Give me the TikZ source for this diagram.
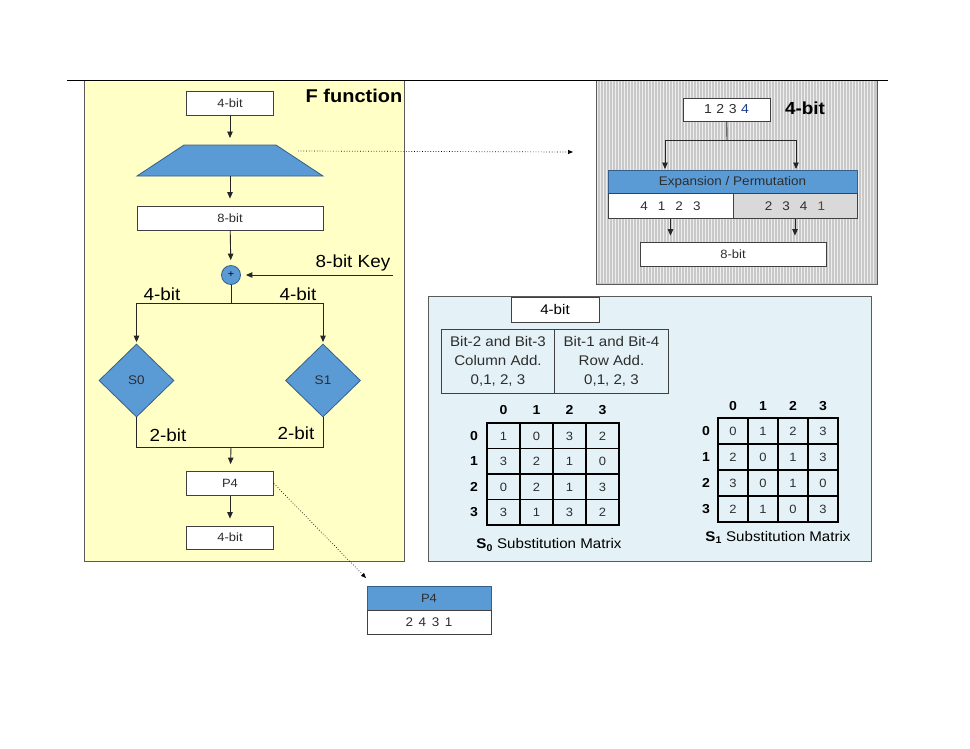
\documentclass[tikz,border=0pt]{standalone}
\usepackage{fontspec}
\setmainfont{Liberation Sans}[FakeStretch=1.08]
\usetikzlibrary{arrows.meta,shapes.geometric}

\definecolor{fyellow}{RGB}{255,255,198}
\definecolor{pcyan}{RGB}{228,242,247}
\definecolor{pgray}{RGB}{200,200,200}
\definecolor{pstripe}{RGB}{238,238,238}
\definecolor{sblue}{RGB}{91,155,213}
\definecolor{sblueline}{RGB}{52,94,140}
\definecolor{frameline}{RGB}{90,90,90}
\definecolor{celltext}{RGB}{45,45,45}
\definecolor{bitblue}{RGB}{30,60,140}
\definecolor{bitbrown}{RGB}{110,60,20}

\tikzset{
  x=1pt, y=-1pt,
  conn/.style={line width=0.9pt, draw=black!85},
  arr/.style={conn, -{Triangle[length=6.5pt,width=5.5pt]}, shorten >=7pt},
  dotarr/.style={dotted, line width=0.7pt, -{Triangle[length=5pt,width=4pt]}},
  box/.style={draw=black!75, fill=white, line width=0.8pt, inner sep=0pt,
    text=celltext, font=\fontsize{12}{14}\selectfont},
  bluebox/.style={box, fill=sblue, draw=sblueline},
  sbox/.style={diamond, aspect=1, draw=sblueline, fill=sblue, line width=0.8pt,
    inner sep=0pt, minimum width=75pt, minimum height=73pt,
    font=\fontsize{12.5}{14}\selectfont, text=celltext},
  biglabel/.style={font=\fontsize{17.5}{20}\selectfont, inner sep=0pt},
  panel/.style={line width=0.9pt, draw=frameline},
  gridline/.style={line width=1.3pt, draw=black},
  cellnum/.style={font=\fontsize{12}{14}\selectfont, text=celltext, inner sep=0pt},
  headnum/.style={font=\fontsize{13}{15}\selectfont\bfseries, inner sep=0pt},
  caption/.style={font=\fontsize{14}{16}\selectfont, inner sep=0pt},
}

\begin{document}
\begin{tikzpicture}
\useasboundingbox (0,0) rectangle (970,748);
\fill[white] (0,0) rectangle (970,748);

% ---------- background panels ----------
\filldraw[panel, fill=fyellow] (84,80) rectangle (404,561);
\fill[pgray] (596,80) rectangle (877,284);
\foreach \x in {597.5,600.5,...,876} \draw[pstripe, line width=1.6pt] (\x,81) -- (\x,283);
\draw[panel] (596,80) rectangle (877,284);
\filldraw[panel, fill=pcyan] (428,296) rectangle (871,561);
\draw[line width=1.6pt] (67,80.5) -- (888,80.5);

% ---------- F function ----------
\node[font=\fontsize{18.5}{20}\selectfont\bfseries, inner sep=0pt] (ftitle) at (354,96) {F function};
\node[box, minimum width=87pt, minimum height=24pt] (in4) at (230,103) {4-bit};
\filldraw[draw=sblueline, fill=sblue, line width=0.8pt] (184,145) -- (276,145) -- (323,176) -- (137,176) -- cycle;
\coordinate (trapT) at (230,145);
\coordinate (trapB) at (230,176);
\coordinate (trapR) at (298,151);
\node[box, minimum width=186pt, minimum height=24pt] (b8) at (230,218) {8-bit};
\node[circle, draw=sblueline, fill=sblue, line width=0.8pt, minimum size=19pt, inner sep=0pt,
      font=\fontsize{10}{10}\selectfont] (xor) at (231,275) {+};
\node[biglabel] (keylbl) at (353,263) {8-bit Key};
\coordinate (keyS) at (393,275);
\coordinate (split) at (231,303);
\node[biglabel] (l4a) at (162,294) {4-bit};
\node[biglabel] (l4b) at (298,294) {4-bit};
\node[sbox] (s0) at (136.5,380.5) {S0};
\node[sbox] (s1) at (323,380.5) {S1};
\coordinate (join) at (231,447);
\node[biglabel] (l2a) at (168,435) {2-bit};
\node[biglabel] (l2b) at (296,433) {2-bit};
\node[box, minimum width=87pt, minimum height=24pt] (p4) at (230,483.5) {P4};
\node[box, minimum width=87pt, minimum height=23pt] (out4) at (230,537.5) {4-bit};

\draw[arr] (in4) -- (trapT);
\draw[arr] (trapB) -- (b8);
\draw[arr, shorten >=5pt] (b8) -- (xor);
\draw[arr, shorten >=5pt] (keyS) -- (xor);
\draw[conn] (xor) -- (split);
\draw[arr, shorten >=1.5pt] (split) -| (s0);
\draw[arr, shorten >=1.5pt] (split) -| (s1);
\draw[conn] (s0) |- (join);
\draw[conn] (s1) |- (join);
\draw[arr] (join) -- (p4);
\draw[arr] (p4) -- (out4);

% ---------- expansion / permutation detail ----------
\node[box, minimum width=87pt, minimum height=23pt, font=\fontsize{13}{14}\selectfont] (in1234) at (726.5,109.5)
      {1\hspace{0.35em}2\hspace{0.35em}3\hspace{0.35em}\textcolor{bitblue}{4}};
\node[font=\fontsize{17.5}{20}\selectfont\bfseries, inner sep=0pt] (ep4) at (805,108) {4-bit};
\coordinate (esplit) at (727,140);
\coordinate (eLtop) at (665,171);
\coordinate (eRtop) at (796,171);
\node[bluebox, minimum width=249pt, minimum height=23pt, font=\fontsize{12.5}{14}\selectfont] (ep) at (732.5,182) {Expansion / Permutation};
\node[box, minimum width=125pt, minimum height=25pt, font=\fontsize{12.5}{14}\selectfont] (c1) at (670.5,206) {4\hspace{0.8em}1\hspace{0.8em}2\hspace{0.8em}3};
\node[box, fill=black!15, minimum width=124pt, minimum height=25pt, font=\fontsize{12.5}{14}\selectfont] (c2) at (795,206) {2\hspace{0.8em}3\hspace{0.8em}4\hspace{0.8em}\textcolor{bitbrown}{1}};
\node[box, minimum width=186pt, minimum height=24pt] (o8) at (733,254) {8-bit};

\draw[conn] (in1234) -- (esplit);
\draw[arr, shorten >=2pt] (esplit) -| (eLtop);
\draw[arr, shorten >=2pt] (esplit) -| (eRtop);
\draw[arr, shorten >=6pt] (c1.south) -- (c1.south |- o8.north);
\draw[arr, shorten >=6pt] (c2.south) -- (c2.south |- o8.north);

\coordinate (expTgt) at (573,152);
\draw[dotarr] (trapR) -- (expTgt);

% ---------- P4 detail ----------
\node[bluebox, minimum width=124pt, minimum height=24pt] (p4h) at (429,598) {P4};
\node[box, minimum width=124pt, minimum height=24pt, font=\fontsize{12.5}{14}\selectfont] (p4b) at (429,622) {2\hspace{0.45em}4\hspace{0.45em}3\hspace{0.45em}1};
\coordinate (p4Tgt) at (366,578);
\draw[dotarr] (p4.east) -- (p4Tgt);

% ---------- S-box panel ----------
\node[box, minimum width=88pt, minimum height=25pt, font=\fontsize{14}{16}\selectfont, text=black] (sin4) at (555,309.5) {4-bit};
\node[draw=black!75, line width=0.8pt, minimum width=113pt, minimum height=64pt, inner sep=0pt,
      align=center, font=\fontsize{14}{19}\selectfont, text=celltext] (colT) at (498,361)
      {Bit-2 and Bit-3\\Column Add.\\0,1, 2, 3};
\node[draw=black!75, line width=0.8pt, minimum width=114pt, minimum height=64pt, inner sep=0pt,
      align=center, font=\fontsize{14}{19}\selectfont, text=celltext] (rowT) at (611.5,361)
      {Bit-1 and Bit-4\\Row Add.\\0,1, 2, 3};

% S0 matrix
\draw[gridline] (487,423) rectangle (619,525);
\foreach \i in {1,2,3} {
  \draw[gridline] (487+33*\i,423) -- (487+33*\i,525);
  \draw[gridline] (487,423+25.5*\i) -- (619,423+25.5*\i);
}
\foreach \c in {0,1,2,3} {
  \node[headnum] (s0h\c) at (503.5+33*\c,410) {\c};
  \node[headnum] (s0r\c) at (474,436+25.5*\c) {\c};
}
\foreach \r/\vals in {0/{1,0,3,2},1/{3,2,1,0},2/{0,2,1,3},3/{3,1,3,2}} {
  \foreach \v [count=\c from 0] in \vals {
    \node[cellnum] (s0v\r\c) at (503.5+33*\c,436+25.5*\r) {\v};
  }
}
\node[caption] (s0cap) at (549,545) {\textbf{S\textsubscript{0}} Substitution Matrix};

% S1 matrix
\draw[gridline] (718,418) rectangle (838,522);
\foreach \i in {1,2,3} {
  \draw[gridline] (718+30*\i,418) -- (718+30*\i,522);
  \draw[gridline] (718,418+26*\i) -- (838,418+26*\i);
}
\foreach \c in {0,1,2,3} {
  \node[headnum] (s1h\c) at (733+30*\c,406) {\c};
  \node[headnum] (s1r\c) at (706,431+26*\c) {\c};
}
\foreach \r/\vals in {0/{0,1,2,3},1/{2,0,1,3},2/{3,0,1,0},3/{2,1,0,3}} {
  \foreach \v [count=\c from 0] in \vals {
    \node[cellnum] (s1v\r\c) at (733+30*\c,431+26*\r) {\v};
  }
}
\node[caption] (s1cap) at (778,537) {\textbf{S\textsubscript{1}} Substitution Matrix};

\end{tikzpicture}
\end{document}
